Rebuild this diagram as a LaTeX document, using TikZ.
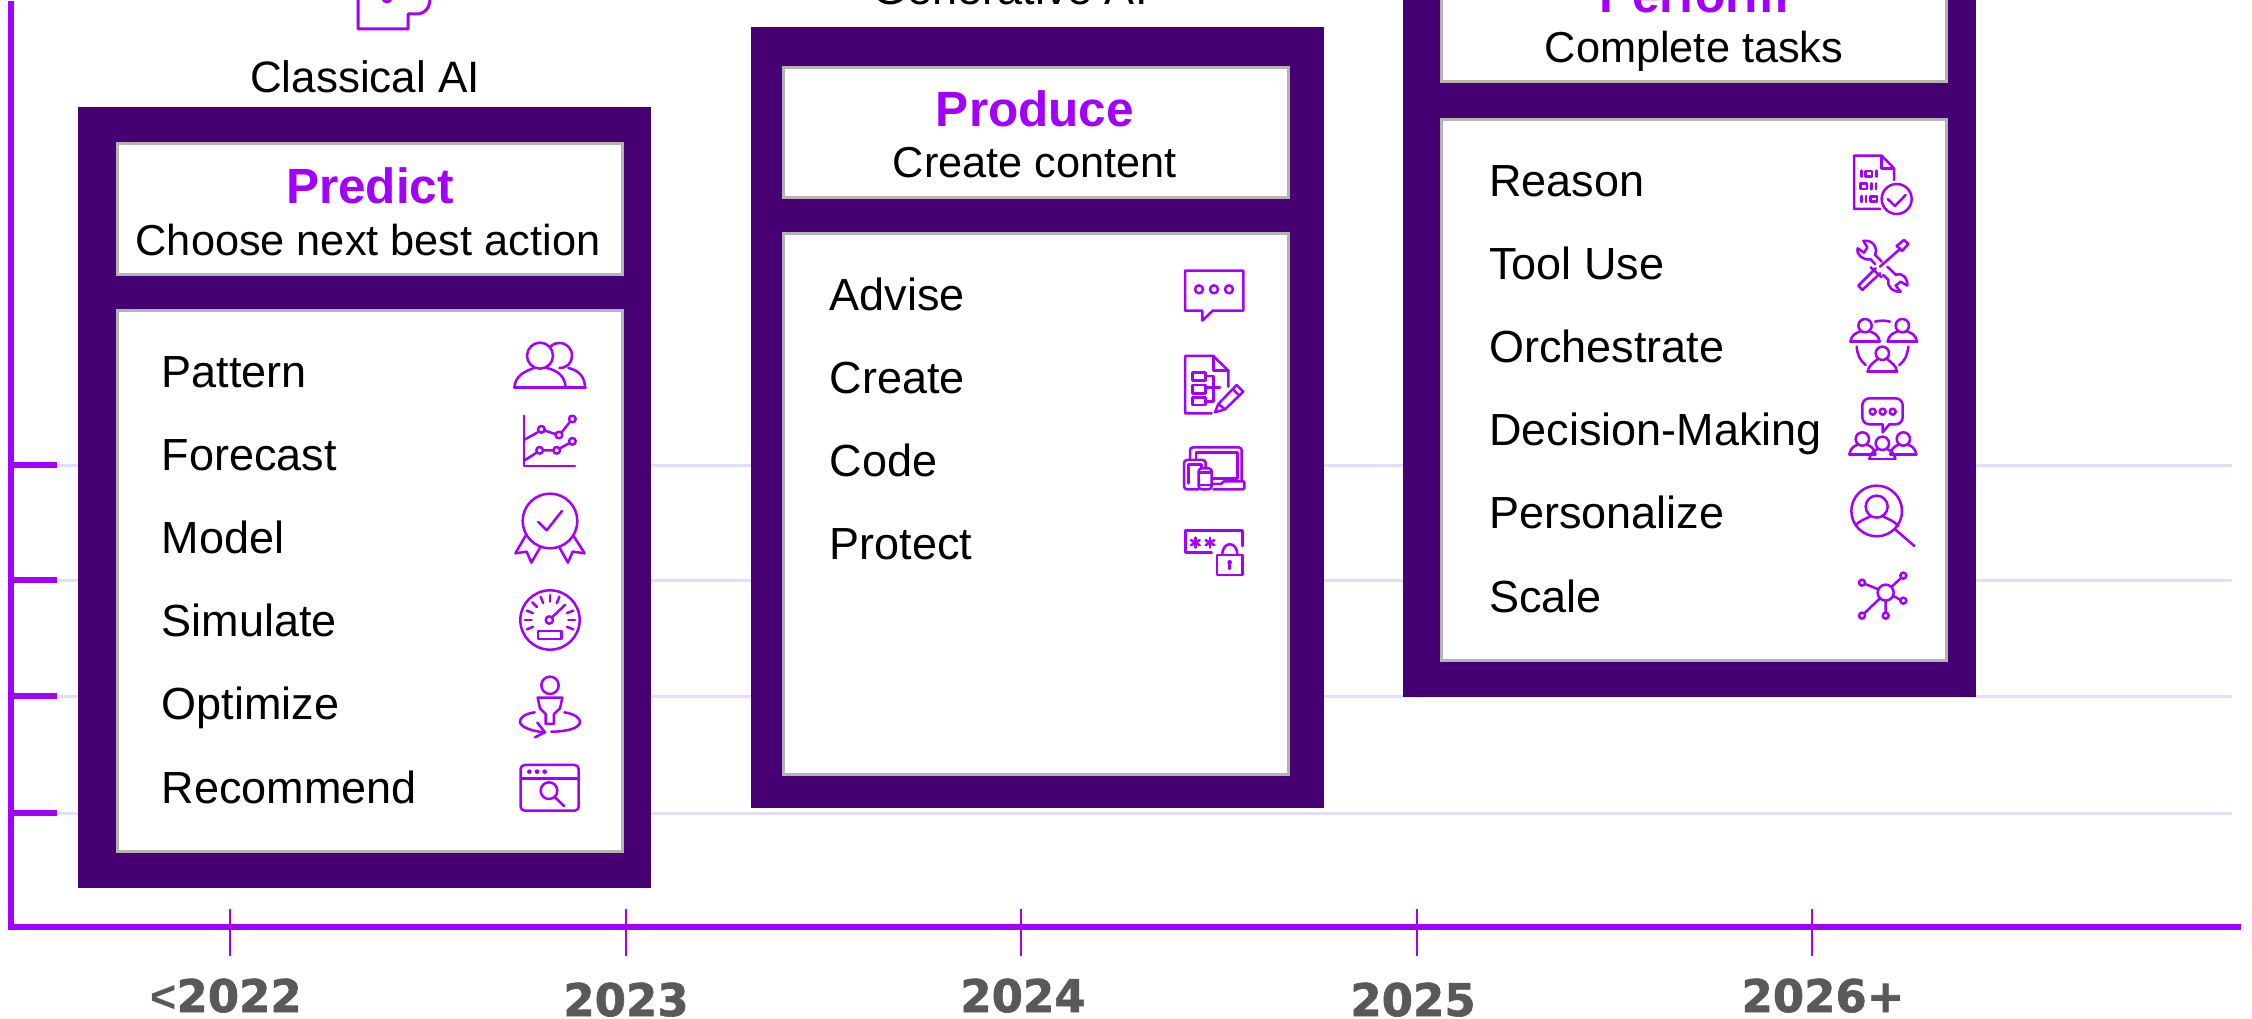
\documentclass[tikz,border=0pt]{standalone}
\usepackage{fontspec}
\setmainfont{Liberation Sans}
\newfontfamily\yearfont[BoldFeatures={FakeBold=1.4}]{DejaVu Sans}
\definecolor{accent}{HTML}{A100FF}
\definecolor{deeppurple}{HTML}{460073}
\definecolor{gridlilac}{HTML}{E6DCFF}
\definecolor{yeargray}{HTML}{595959}
\definecolor{paneledge}{HTML}{B4B4B4}
\newcommand{\lessmark}{{\rmfamily\bfseries<}}
\newcommand{\usericon}[4]{% head x, head y, half base, base y
	\draw[iconline] (#1,#2) circle (20);
	\draw[iconline] (#1-#3,#4) -- (#1+#3,#4);
	\draw[iconline] (#1-#3,#4) .. controls (#1-#3+3,#4-20) and (#1-#3+18,#4-27) .. (#1-15,#2+18);
	\draw[iconline] (#1+#3,#4) .. controls (#1+#3-3,#4-20) and (#1+#3-18,#4-27) .. (#1+15,#2+18);
}

\begin{document}
\begin{tikzpicture}[x=1pt,y=-1pt]
			\tikzstyle{frame}=[rectangle,fill=deeppurple,minimum width=573pt,minimum height=780pt,inner sep=0pt,outer sep=0pt]
			\tikzstyle{panel}=[rectangle,fill=white,draw=paneledge,line width=3pt,minimum width=505pt,inner sep=0pt]
			\tikzstyle{row}=[anchor=base west,inner sep=0pt,font=\fontsize{45}{54}\selectfont]
			\tikzstyle{title}=[anchor=base,inner sep=0pt,text=accent,font=\fontsize{49.5}{58}\selectfont\bfseries]
			\tikzstyle{subtitle}=[anchor=base,inner sep=0pt,font=\fontsize{43.3}{54}\selectfont]
			\tikzstyle{year}=[anchor=base,inner sep=0pt,text=yeargray,font=\fontsize{45}{54}\yearfont\bfseries]
			\tikzset{iconline/.style={draw=accent,line width=2.5pt,line cap=round,line join=round},
				crop/.style 2 args={shift={(#1,#2)},x=0.3333pt,y=-0.3333pt}}
			\useasboundingbox (0,0) rectangle (2252,1019);
			\clip (0,0) rectangle (2252,1019);
			% axes and grid
			\coordinate (origin) at (11,927);
			\coordinate (axistop) at (11,4);
			\coordinate (axisend) at (2238,927);
			\foreach \y in {465,580,696,813}{
				\coordinate (gridstart\y) at (11,\y);
				\coordinate (gridend\y) at (2232,\y);
				\coordinate (tickend\y) at (57,\y);
				\draw[gridlilac,line width=3pt] (tickend\y) -- (gridend\y);
				\draw[accent,line width=6pt] (gridstart\y) -- (tickend\y);
			}
			\draw[accent,line width=5.5pt,line cap=rect] (axistop) -- (origin) -- (axisend);
			\foreach \x/\lab/\lx/\ly in {230/\lessmark 2022/226/1012,626/2023/626/1016,1021/2024/1023/1012,1417/2025/1413/1016,1812/2026+/1823/1012}{
				\coordinate (tickup\x) at (\x,909);
				\coordinate (tickdown\x) at (\x,956);
				\draw[accent,line width=2.5pt] (tickup\x) -- (tickdown\x);
				\node[year] (year\x) at (\lx,\ly) {\lab};
			}
			% three frames
			\node[frame] (classical) at (364.5,497.5) {};
			\node[frame] (generative) at (1037.5,417.5) {};
			\node[frame] (agentic) at (1689.5,307) {};
			\node[panel,minimum height=130pt] (predicthead) at (369.5,209) {};
			\node[panel,minimum height=541pt] (predictbody) at (369.5,580.5) {};
			\node[panel,minimum height=130pt] (producehead) at (1036,132.5) {};
			\node[panel,minimum height=541pt] (producebody) at (1036,504) {};
			\node[panel,minimum height=130pt] (performhead) at (1694,17) {};
			\node[panel,minimum height=541pt] (performbody) at (1694,390) {};
			% texts
			\node[subtitle,font=\fontsize{44}{54}\selectfont] (classicallabel) at (365,92.5) {Classical AI};
			\node[subtitle,font=\fontsize{45}{54}\selectfont] (generativelabel) at (1010,4.5) {Generative AI};
			\node[title] (predicttitle) at (370,204) {Predict};
			\node[subtitle] (predictsub) at (368,255) {Choose next best action};
			\node[title] (producetitle) at (1035,127) {Produce};
			\node[subtitle] (producesub) at (1035,178) {Create content};
			\node[title] (performtitle) at (1694,13) {Perform};
			\node[subtitle] (performsub) at (1694,63) {Complete tasks};
			\foreach \lab [count=\i from 0] in {Pattern,Forecast,Model,Simulate,Optimize,Recommend}
				\node[row] (predictrow\i) at (161.5,{387+83.2*\i}) {\lab};
			\foreach \lab [count=\i from 0] in {Advise,Create,Code,Protect}
				\node[row] (producerow\i) at (829.5,{310+83*\i}) {\lab};
			\foreach \lab [count=\i from 0] in {Reason,Tool Use,Orchestrate,Decision-Making,Personalize,Scale}
				\node[row] (performrow\i) at (1489,{196.5+83.1*\i}) {\lab};
			% cut-off icon above the first frame
			\draw[iconline,line width=3pt] (358,-2) -- (358,29) -- (408,29) -- (408,14) -- (416,14) .. controls (425,14) and (430,8) .. (430,-2);
			\draw[iconline,line width=3pt] (387,-2) circle (4);
			% icons of first frame
			\begin{scope}[crop={490}{340}]
				\draw[iconline] (150,47) circle (39);
				\draw[iconline] (180,22) .. controls (190,10) and (200,9) .. (208,9) .. controls (230,9) and (246,25) .. (246,47) .. controls (246,68) and (232,84) .. (208,84);
				\draw[iconline] (73,143) -- (287,143);
				\draw[iconline] (73,143) .. controls (75,105) and (110,92) .. (132,84);
				\draw[iconline] (170,84) .. controls (205,92) and (225,110) .. (227,143);
				\draw[iconline] (235,84) .. controls (265,90) and (285,110) .. (285,143);
				\draw[iconline] (102,227) -- (102,378) -- (255,378);
				\draw[iconline] (102,300) -- (143,277) (165,272) -- (196,282) (215,277) -- (238,248);
				\draw[iconline] (102,362) -- (140,338) (160,331) -- (190,331) (210,325) -- (237,310);
				\foreach \cx/\cy in {154/268,207/285,247/237,149/331,200/331,247/304}
					\draw[iconline] (\cx,\cy) circle (10);
				\draw[iconline] (180,543) circle (82);
				\draw[iconline] (145,546) -- (170,571) -- (216,513);
				\draw[iconline] (108,585) -- (76,640) -- (110,635) -- (124,668) -- (152,620);
				\draw[iconline] (252,590) -- (284,640) -- (248,635) -- (234,668) -- (208,622);
			\end{scope}
			\begin{scope}[crop={490}{570}]
				\draw[iconline] (180,150) circle (89);
				\draw[iconline] (178,150) circle (11);
				\draw[iconline] (186,142) -- (226,104);
				\draw[iconline] (144,183) rectangle (214,207);
				\foreach \a in {0,22,158,180,202,225,248,270,292,338}
					\draw[iconline] (180,150) ++(\a:55) -- ++(\a:20);
				\draw[iconline] (180,346) circle (26);
				\draw[iconline] (143,383) -- (217,383) -- (210,415) -- (192,432) -- (192,462) -- (167,462) -- (167,432) -- (150,415) -- cycle;
				\draw[iconline] (134,427) .. controls (100,432) and (90,445) .. (90,455) .. controls (90,470) and (120,482) .. (160,487);
				\draw[iconline] (142,458) -- (165,487) -- (135,502);
				\draw[iconline] (223,427) .. controls (255,432) and (270,445) .. (270,455) .. controls (270,475) and (230,485) .. (184,485);
				\draw[iconline,rounded corners=4pt] (92,585) rectangle (266,722);
				\draw[iconline] (92,625) -- (266,625);
				\foreach \cx in {118,141,164}
					\fill[accent] (\cx,605) circle (7);
				\draw[iconline] (177,662) circle (25);
				\draw[iconline] (195,682) -- (222,708);
			\end{scope}
			% icons of second frame
			\begin{scope}[crop={1160}{250}]
				\draw[iconline] (75,62) -- (250,62) -- (250,182) -- (158,182) -- (127,212) -- (127,182) -- (75,182) -- cycle;
				\foreach \cx in {117,162,207}
					\draw[iconline] (\cx,118) circle (12);
				\draw[iconline] (155,490) -- (75,490) -- (75,318) -- (160,318) -- (205,362) -- (205,410);
				\draw[iconline] (160,318) -- (160,362) -- (205,362);
				\draw[iconline] (98,368) rectangle (136,392) (98,405) rectangle (136,430) (98,443) rectangle (136,465);
				\draw[iconline] (136,378) -- (160,378) -- (160,455) -- (136,455) (136,413) -- (180,413);
				\draw[iconline] (165,487) -- (175,462) -- (230,405) -- (250,425) -- (195,478) -- cycle;
				\draw[iconline] (218,417) -- (238,437) (175,462) -- (195,478);
				\draw[iconline,rounded corners=3pt] (90,625) -- (90,592) -- (245,592) -- (245,690);
				\draw[iconline] (108,625) -- (108,607) -- (232,607) -- (232,685) -- (160,685);
				\draw[iconline,rounded corners=1pt] (160,702) -- (185,702) -- (190,694) -- (253,694) -- (253,718) -- (160,718);
				\draw[iconline,rounded corners=3pt] (116,718) -- (72,718) -- (72,630) -- (137,630) -- (137,655);
				\draw[iconline] (85,700) -- (85,643) -- (125,643) -- (125,655);
				\draw[iconline,rounded corners=3pt] (116,655) rectangle (155,718);
				\draw[iconline] (116,668) -- (155,668) (116,705) -- (155,705);
				\draw[iconline] (155,908) -- (77,908) -- (77,842) -- (247,842) -- (247,888);
				\foreach \cx in {106,150}
					\foreach \a in {90,30,150}
						\draw[iconline] (\cx,878) ++(\a:15) -- ++(\a:-30);
				\draw[iconline] (171,915) rectangle (248,975);
				\draw[iconline] (187,915) .. controls (187,872) and (232,872) .. (232,915);
				\fill[accent] (209,937) circle (7);
				\draw[iconline] (209,937) -- (209,957);
			\end{scope}
			% icons of third frame
			\begin{scope}[crop={1830}{140}]
				\draw[iconline] (150,207) -- (72,207) -- (72,47) -- (155,47) -- (192,85) -- (192,120);
				\draw[iconline] (155,47) -- (155,85) -- (192,85);
				\draw[iconline] (200,177) circle (45);
				\draw[iconline] (173,177) -- (195,198) -- (227,165);
				\draw[iconline] (94,92) -- (94,110) (139,92) -- (139,110) (124,130) -- (124,148) (138,130) -- (138,148) (94,168) -- (94,186) (108,168) -- (108,186);
				\draw[iconline] (107,93) rectangle (126,109) (92,131) rectangle (111,147) (122,169) rectangle (141,185);
				\draw[iconline] (150,380) -- (212,325) (137,385) -- (85,437) -- (97,450) -- (150,400);
				\draw[iconline] (122,382) -- (155,412);
				\draw[iconline] (200,318) -- (222,300) -- (235,312) -- (216,333) -- cycle;
				\draw[iconline] (135,345) .. controls (145,320) and (125,298) .. (100,303) -- (112,322) -- (102,338) -- (83,325) .. controls (78,345) and (100,362) .. (122,358) -- (135,372);
				\draw[iconline] (135,345) -- (155,365);
				\draw[iconline] (172,380) -- (198,405) .. controls (220,395) and (235,420) .. (232,437) -- (212,425) -- (197,437) -- (212,455) .. controls (190,458) and (170,440) .. (175,420) -- (160,405);
				\usericon{105}{557}{44}{605}
				\usericon{217}{557}{44}{605}
				\usericon{157}{640}{44}{695}
				\draw[iconline] (135,545) .. controls (150,541) and (165,541) .. (180,545);
				\draw[iconline] (80,620) .. controls (82,645) and (90,662) .. (107,675);
				\draw[iconline] (235,620) .. controls (232,645) and (225,662) .. (208,675);
			\end{scope}
			\begin{scope}[crop={1830}{370}]
				\draw[iconline,rounded corners=7pt] (140,163) -- (97,163) -- (97,85) -- (218,85) -- (218,163) -- (178,163);
				\draw[iconline] (140,163) -- (158,163) -- (158,187) -- (178,163);
				\foreach \cx in {128,158,188}
					\draw[iconline] (\cx,125) circle (9);
				\usericon{97}{207}{39}{253}
				\usericon{220}{207}{39}{253}
				\usericon{157}{220}{39}{267}
				\draw[iconline] (140,423) circle (76);
				\draw[iconline] (140,410) circle (33);
				\draw[iconline] (77,465) .. controls (90,452) and (105,447) .. (120,440);
				\draw[iconline] (160,440) .. controls (175,447) and (190,452) .. (205,468);
				\draw[iconline] (195,478) -- (253,528);
				\draw[iconline] (167,668) circle (24);
				\foreach \cx/\cy in {96/638,220/617,220/692,96/737,167/737}
					\draw[iconline] (\cx,\cy) circle (9);
				\draw[iconline] (108,643) -- (145,658) (210,627) -- (185,650) (208,688) -- (190,678) (105,728) -- (150,685) (167,692) -- (167,727);
			\end{scope}
\end{tikzpicture}
\end{document}
